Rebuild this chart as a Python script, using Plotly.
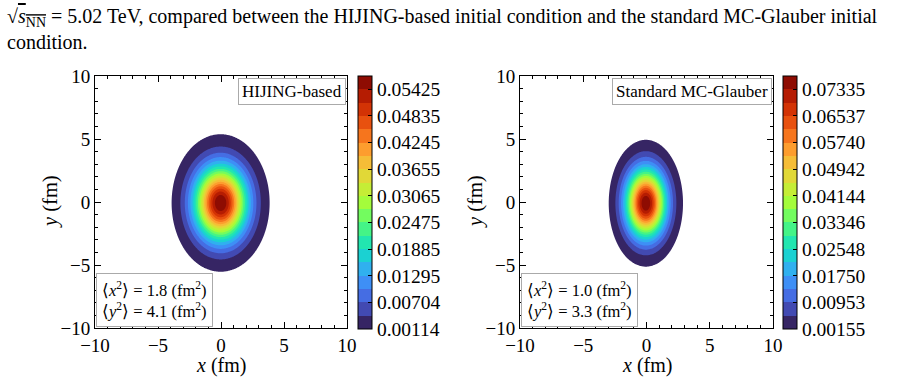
import numpy as np
import plotly.graph_objects as go
from plotly.colors import sample_colorscale

W, H = 897, 378
SERIF = "Liberation Serif"

# ---------------- data ----------------
panel_labels = ["HIJING-based", "Standard MC-Glauber"]
x2_means = [1.8, 1.0]
y2_means = [4.1, 3.3]
cbar_ticks_hijing = [0.00114, 0.00704, 0.01295, 0.01885, 0.02475,
                     0.03065, 0.03655, 0.04245, 0.04835, 0.05425]
cbar_ticks_glauber = [0.00155, 0.00953, 0.01750, 0.02548, 0.03346,
                      0.04144, 0.04942, 0.05740, 0.06537, 0.07335]
# estimated profile parameters of the density
peak_density = [0.05720, 0.07734]
sigma_x = [1.39, 1.05]
sigma_y = [1.95, 1.80]
center_x = [-0.03, -0.05]
center_y = [-0.08, -0.10]
n_bands = 19
axis_ticks = [-10, -5, 0, 5, 10]

caption_line1 = ("√<span style='text-decoration:overline'><i>s</i><sub>NN</sub></span> = 5.02 TeV, compared between "
                 "the HIJING-based initial condition and the standard MC-Glauber initial")
caption_line2 = "condition."

# ---------------- layout geometry (pixels) ----------------
plot_x = [(95, 347), (520, 773)]
plot_top, plot_bot = 76, 328
cbar_left = [358, 783]

band_colors = sample_colorscale("Turbo", [(k + 0.5) / n_bands for k in range(n_bands)])

fig = go.Figure()
grid = np.linspace(-10, 10, 401)
XX, YY = np.meshgrid(grid, grid)

for i in range(2):
    ticks = cbar_ticks_hijing if i == 0 else cbar_ticks_glauber
    step = (ticks[-1] - ticks[0]) / (2 * (len(ticks) - 1))
    levels = [ticks[0] + k * step for k in range(n_bands + 1)]
    Z = peak_density[i] * np.exp(-((XX - center_x[i]) ** 2) / (2 * sigma_x[i] ** 2)
                                 - ((YY - center_y[i]) ** 2) / (2 * sigma_y[i] ** 2))

    # fill colourscale: region below first level white, then the bands
    fs = [[0, "white"], [0.5 / n_bands, "white"]]
    for k, c in enumerate(band_colors):
        a = (k + 0.5) / n_bands
        b = min((k + 1.5) / n_bands, 1)
        fs += [[a, c], [b, c]]
    xa = "x" if i == 0 else "x2"
    ya = "y" if i == 0 else "y2"
    fig.add_trace(go.Contour(
        x=grid, y=grid, z=Z, autocontour=False,
        contours=dict(start=levels[0], end=levels[n_bands - 1], size=step,
                      coloring="fill", showlines=False),
        line=dict(width=0), colorscale=fs, showscale=False,
        xaxis=xa, yaxis=ya, hoverinfo="skip"))

    # colour bar (discrete)
    cs = []
    for k, c in enumerate(band_colors):
        cs += [[k / n_bands, c], [(k + 1) / n_bands, c]]
    fig.add_trace(go.Scatter(
        x=[100], y=[100], mode="markers", xaxis=xa, yaxis=ya, hoverinfo="skip",
        showlegend=False,
        marker=dict(color=[levels[0]], colorscale=cs, cmin=levels[0], cmax=levels[-1],
                    showscale=True,
                    colorbar=dict(x=cbar_left[i] / W, xanchor="left", xpad=0,
                                  y=(H - plot_top) / H, yanchor="top", ypad=0,
                                  len=(plot_bot - plot_top + 1) / H, lenmode="fraction",
                                  thickness=14, thicknessmode="pixels",
                                  outlinewidth=1, outlinecolor="black",
                                  tickvals=ticks, ticktext=[f"{t:.5f}" for t in ticks],
                                  ticks="inside", ticklen=4, tickcolor="black",
                                  tickfont=dict(family=SERIF, size=19.5, color="black")))))

axis_common = dict(range=[-10, 10], tickvals=axis_ticks, ticks="inside", ticklen=6,
                   tickcolor="black", showline=True, linecolor="black", linewidth=1,
                   mirror="ticks", showgrid=False, zeroline=False,
                   tickfont=dict(family=SERIF, size=19, color="black"),
                   minor=dict(tickmode="linear", tick0=0, dtick=1, ticks="inside",
                              ticklen=3, tickcolor="black"))

fig.update_layout(
    width=W, height=H, margin=dict(l=0, r=0, t=0, b=0, autoexpand=False),
    paper_bgcolor="white", plot_bgcolor="white", showlegend=False,
    xaxis=dict(domain=[plot_x[0][0] / W, plot_x[0][1] / W], anchor="y", **axis_common),
    yaxis=dict(domain=[(H - plot_bot) / H, (H - plot_top) / H], anchor="x", **axis_common),
    xaxis2=dict(domain=[plot_x[1][0] / W, plot_x[1][1] / W], anchor="y2", **axis_common),
    yaxis2=dict(domain=[(H - plot_bot) / H, (H - plot_top) / H], anchor="x2", **axis_common),
)

ann = []
ann.append(dict(text=caption_line1, x=5 / W, y=1 - 3 / H, xanchor="left", yanchor="top",
                xref="paper", yref="paper", showarrow=False,
                font=dict(family=SERIF, size=20, color="black")))
ann.append(dict(text=caption_line2, x=5 / W, y=1 - 29 / H, xanchor="left", yanchor="top",
                xref="paper", yref="paper", showarrow=False,
                font=dict(family=SERIF, size=20, color="black")))
for i in range(2):
    x0, x1 = plot_x[i]
    xc = (x0 + x1) / 2
    ann.append(dict(text="<i>x</i> (fm)", x=xc / W, y=1 - 365 / H, xanchor="center",
                    yanchor="middle", xref="paper", yref="paper", showarrow=False,
                    font=dict(family=SERIF, size=20, color="black")))
    ann.append(dict(text="<i>y</i> (fm)", x=(x0 - 45) / W, y=1 - 202 / H, xanchor="center",
                    yanchor="middle", xref="paper", yref="paper", showarrow=False,
                    textangle=-90, font=dict(family=SERIF, size=20.5, color="black")))
    ann.append(dict(text=panel_labels[i], x=(x1 - 1) / W, y=1 - 78 / H, xanchor="right",
                    yanchor="top", xref="paper", yref="paper", showarrow=False,
                    bgcolor="white", bordercolor="#aaaaaa", borderwidth=1, borderpad=3,
                    font=dict(family=SERIF, size=17, color="black")))
    txt = (f"⟨<i>x</i><sup>2</sup>⟩ = {x2_means[i]:.1f} (fm<sup>2</sup>)<br>"
           f"⟨<i>y</i><sup>2</sup>⟩ = {y2_means[i]:.1f} (fm<sup>2</sup>)")
    ann.append(dict(text=txt, x=(x0 + 1) / W, y=1 - 327 / H, xanchor="left",
                    yanchor="bottom", xref="paper", yref="paper", showarrow=False,
                    align="left", bgcolor="white", bordercolor="#aaaaaa", borderwidth=1,
                    borderpad=5, font=dict(family=SERIF, size=16.5, color="black")))
fig.update_layout(annotations=ann)

fig.write_html("out.html")
